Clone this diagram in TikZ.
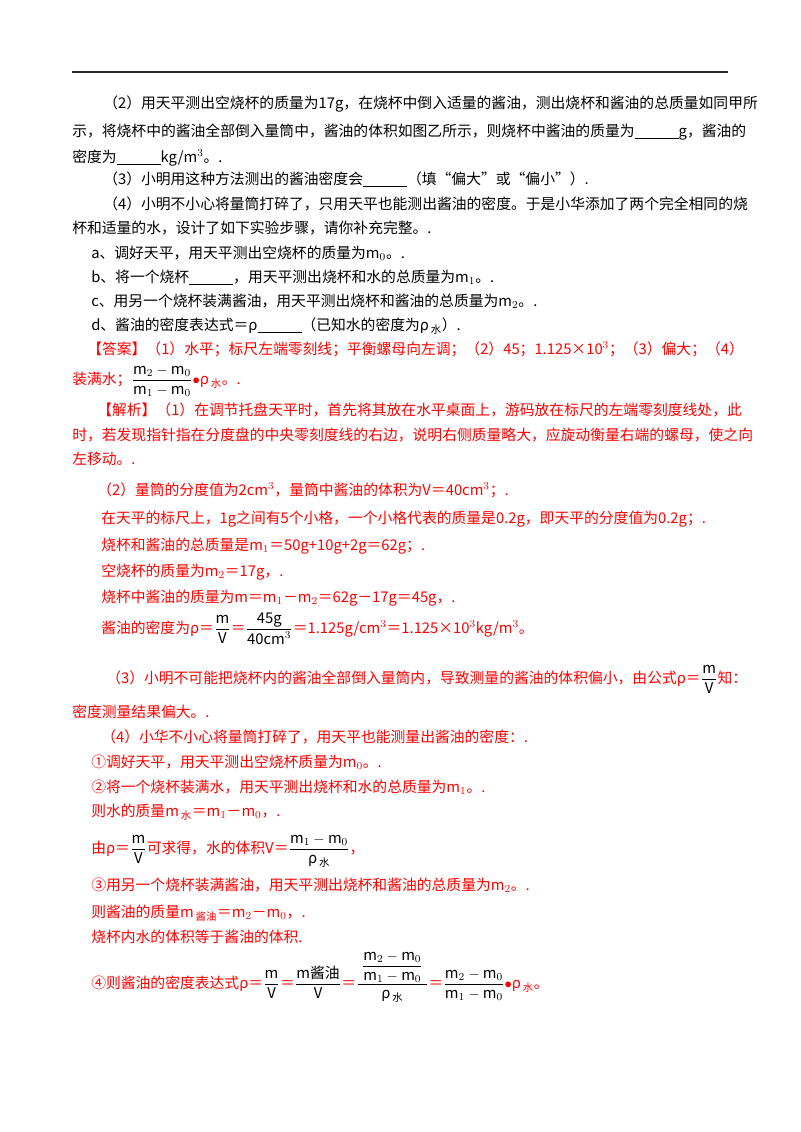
\documentclass[tikz,border=0pt]{standalone}
\usepackage{amsmath}
\usepackage{xcolor}
\usepackage{fontspec}
\setmainfont{Noto Sans CJK SC}
\usepackage{tikz}

\newcommand{\blank}{\rule[-2.5pt]{33pt}{1.2pt}}
\newcommand{\subw}[1]{$_{\,\text{#1}}$}
\newcommand{\bfrac}[2]{\textcolor{black}{$\dfrac{\text{#1}}{\text{#2}}$}}

\begin{document}
\begin{tikzpicture}[x=0.75pt, y=-0.75pt,
    every node/.style={anchor=base west, inner sep=0pt, font=\fontsize{11.1pt}{13pt}\selectfont},
    ans/.style={text=red}]
    \useasboundingbox (0,0) rectangle (800,1132);
    \draw[line width=1.2pt, black!85] (72,72) -- (728,72);

    % question part
    \node (q2a) at (103,108) {（2）用天平测出空烧杯的质量为17g，在烧杯中倒入适量的酱油，测出烧杯和酱油的总质量如同甲所};
    \node (q2b) at (72,136) {示，将烧杯中的酱油全部倒入量筒中，酱油的体积如图乙所示，则烧杯中酱油的质量为\blank g，酱油的};
    \node (q2c) at (72,162) {密度为\blank kg/m$^3$。.};
    \node (q3) at (103,184) {（3）小明用这种方法测出的酱油密度会\blank（填“偏大”或“偏小”）.};
    \node (q4a) at (103,209) {（4）小明不小心将量筒打碎了，只用天平也能测出酱油的密度。于是小华添加了两个完全相同的烧};
    \node (q4b) at (72,233) {杯和适量的水，设计了如下实验步骤，请你补充完整。.};
    \node (sa) at (91,258) {a、调好天平，用天平测出空烧杯的质量为m$_0$。.};
    \node (sb) at (91,282) {b、将一个烧杯\blank，用天平测出烧杯和水的总质量为m$_1$。.};
    \node (sc) at (91,306) {c、用另一个烧杯装满酱油，用天平测出烧杯和酱油的总质量为m$_2$。.};
    \node (sd) at (91,330) {d、酱油的密度表达式＝ρ\blank（已知水的密度为ρ\subw{水}）.};

    % answer
    \node[ans] (ans1) at (87,354) {【答案】（1）水平；标尺左端零刻线；平衡螺母向左调；（2）45；1.125×10$^3$；（3）偏大；（4）};
    \node[ans] (ans2) at (72,384) {装满水；\textcolor{black}{$\dfrac{\text{m}_2-\text{m}_0}{\text{m}_1-\text{m}_0}$}$\bullet$ρ\subw{水}。.};

    % analysis
    \node[ans] (an1) at (97,415) {【解析】（1）在调节托盘天平时，首先将其放在水平桌面上，游码放在标尺的左端零刻度线处，此};
    \node[ans] (an2) at (72,440) {时，若发现指针指在分度盘的中央零刻度线的右边，说明右侧质量略大，应旋动衡量右端的螺母，使之向};
    \node[ans] (an3) at (72,464) {左移动。.};
    \node[ans] (an4) at (97,495) {（2）量筒的分度值为2cm$^3$，量筒中酱油的体积为V＝40cm$^3$；.};
    \node[ans] (an5) at (101,523) {在天平的标尺上，1g之间有5个小格，一个小格代表的质量是0.2g，即天平的分度值为0.2g；.};
    \node[ans] (an6) at (101,550) {烧杯和酱油的总质量是m$_1$＝50g+10g+2g＝62g；.};
    \node[ans] (an7) at (101,576) {空烧杯的质量为m$_2$＝17g，.};
    \node[ans] (an8) at (101,602) {烧杯中酱油的质量为m＝m$_1$－m$_2$＝62g－17g＝45g，.};
    \node[ans] (an9) at (101,633) {酱油的密度为ρ＝\bfrac{m}{V}＝\textcolor{black}{$\dfrac{\text{45g}}{\text{40cm}^3}$}＝1.125g/cm$^3$＝1.125×10$^3$kg/m$^3$。};
    \node[ans] (an10) at (106,683) {（3）小明不可能把烧杯内的酱油全部倒入量筒内，导致测量的酱油的体积偏小，由公式ρ＝\bfrac{m}{V}知：};
    \node[ans] (an11) at (72,717) {密度测量结果偏大。.};
    \node[ans] (an12) at (101,742) {（4）小华不小心将量筒打碎了，用天平也能测量出酱油的密度：.};
    \node[ans] (an13) at (91,767) {①调好天平，用天平测出空烧杯质量为m$_0$。.};
    \node[ans] (an14) at (91,792) {②将一个烧杯装满水，用天平测出烧杯和水的总质量为m$_1$。.};
    \node[ans] (an15) at (91,816) {则水的质量m\subw{水}＝m$_1$－m$_0$，.};
    \node[ans] (an16) at (91,853) {由ρ＝\bfrac{m}{V}可求得，水的体积V＝\textcolor{black}{$\dfrac{\text{m}_1-\text{m}_0}{\text{ρ}_{\,\text{水}}}$}，};
    \node[ans] (an17) at (91,890) {③用另一个烧杯装满酱油，用天平测出烧杯和酱油的总质量为m$_2$。.};
    \node[ans] (an18) at (91,917) {则酱油的质量m\subw{酱油}＝m$_2$－m$_0$，.};
    \node[ans] (an19) at (91,942) {烧杯内水的体积等于酱油的体积.};
    \node[ans] (an20) at (91,988) {④则酱油的密度表达式ρ＝\bfrac{m}{V}＝\bfrac{m酱油}{V}＝\textcolor{black}{$\dfrac{\;\dfrac{\text{m}_2-\text{m}_0}{\text{m}_1-\text{m}_0}\;}{\text{ρ}_{\,\text{水}}}$}＝\textcolor{black}{$\dfrac{\text{m}_2-\text{m}_0}{\text{m}_1-\text{m}_0}$}$\bullet$ρ\subw{水}。};
\end{tikzpicture}
\end{document}
